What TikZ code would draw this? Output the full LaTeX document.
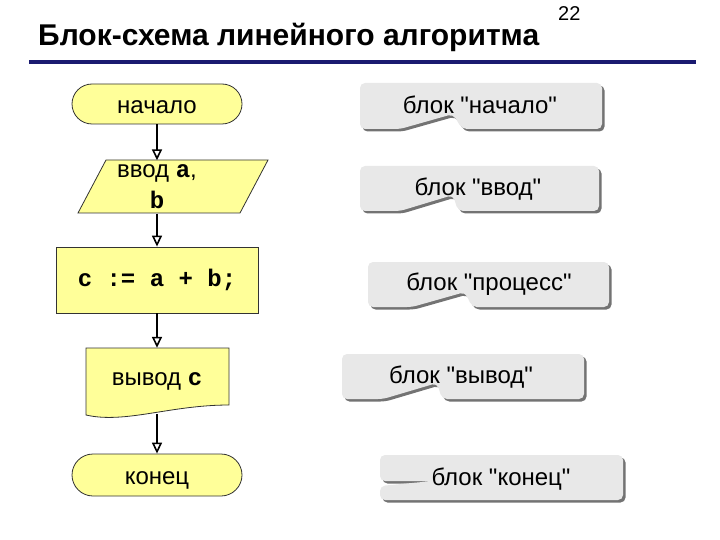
\documentclass[tikz,border=0pt]{standalone}
\usepackage{fontspec}
\setmainfont{Liberation Sans}
\setmonofont{Liberation Mono}
\usepackage{tikz}
\usetikzlibrary{positioning,arrows.meta,calc,shadows}
\usepackage{xcolor}
\definecolor{blockfill}{RGB}{255,255,153}
\definecolor{notefill}{RGB}{232,232,232}
\definecolor{titleline}{RGB}{26,26,112}
\newcommand{\qq}{\textquotedbl}

\tikzset{
  block/.style={draw=black!80,fill=blockfill,line width=0.8pt,font=\fontsize{24}{28}\selectfont,align=center},
  termblock/.style={block,rectangle,rounded corners=20pt,minimum width=170pt,minimum height=40pt,
    text height=19pt,text depth=0pt},
  flowarrow/.style={-{Triangle[open,length=11pt,width=10pt]},line width=1.6pt},
  note/.style={fill=notefill,rounded corners=5pt,
    drop shadow={shadow xshift=2.5pt,shadow yshift=-2.5pt,fill=black,opacity=0.55}},
  notetext/.style={font=\fontsize{24}{28}\selectfont}
}

\begin{document}
\begin{tikzpicture}[x=1pt,y=-1pt]
\useasboundingbox (0,0) rectangle (720,540);

% title
\node[anchor=base west,inner sep=0pt,font=\bfseries\fontsize{30}{34}\selectfont] (title) at (38,46) {Блок-схема линейного алгоритма};
\node[anchor=base west,inner sep=0pt,font=\fontsize{20}{22}\selectfont] (pagenum) at (558,21) {22};
\draw[titleline,line width=3.2pt] (29,62) -- (696,62);

% blocks
\node[termblock] (nachalo) at (157,104) {начало};
\draw[draw=black!80,fill=blockfill,line width=0.8pt] (106,160) -- (268,160) -- (240,213) -- (78,213) -- cycle;
\node[minimum height=53pt,inner sep=0pt,font=\fontsize{24}{31}\selectfont,align=center] (vvod) at (157,187) {ввод \texttt{\textbf{a}},\\\texttt{\textbf{b}}};
\node[block,rectangle,minimum width=202pt,minimum height=66pt,font=\bfseries\ttfamily\fontsize{24}{28}\selectfont] (process) at (157,280) {c := a + b;};
\draw[draw=black!80,fill=blockfill,line width=0.8pt] (86,348) -- (229,348) -- (229,405)
  .. controls (170,405) and (125,424) .. (86,415) -- cycle;
\node[minimum width=143pt,minimum height=66pt,font=\fontsize{24}{28}\selectfont] (vyvod) at (157,381) {вывод \texttt{\textbf{c}}};
\node[termblock,minimum height=42pt,rounded corners=21pt] (konec) at (157,475) {конец};

% arrows
\draw[flowarrow] (nachalo) -- (vvod);
\draw[flowarrow] (vvod) -- (process);
\draw[flowarrow] (process) -- (vyvod);
\draw[flowarrow] (vyvod) -- (konec);

% notes
\fill[note] (360,83) -- (602,83) -- (602,129) -- (462,129) -- (453,114) -- (400,129) -- (360,129) -- cycle;
\node[notetext] (lbnachalo) at (480,105) {блок \qq начало\qq};
\fill[note] (360,166) -- (599,166) -- (599,211) -- (458,211) -- (453,195) -- (400,211) -- (360,211) -- cycle;
\node[notetext] (lbvvod) at (478,189) {блок \qq ввод\qq};
\fill[note] (368,262) -- (609,262) -- (609,307) -- (472,307) -- (465,292) -- (412,307) -- (368,307) -- cycle;
\node[notetext] (lbprocess) at (489,284) {блок \qq процесс\qq};
\fill[note] (342,354) -- (584,354) -- (584,399) -- (442,399) -- (437,383) -- (383,399) -- (342,399) -- cycle;
\node[notetext] (lbvyvod) at (461,377) {блок \qq вывод\qq};
\fill[note] (380,455) -- (623,455) -- (623,500) -- (380,500) -- (380,486) -- (433,481) -- (380,481) -- cycle;
\node[notetext] (lbkonec) at (501,479) {блок \qq конец\qq};
\end{tikzpicture}
\end{document}
